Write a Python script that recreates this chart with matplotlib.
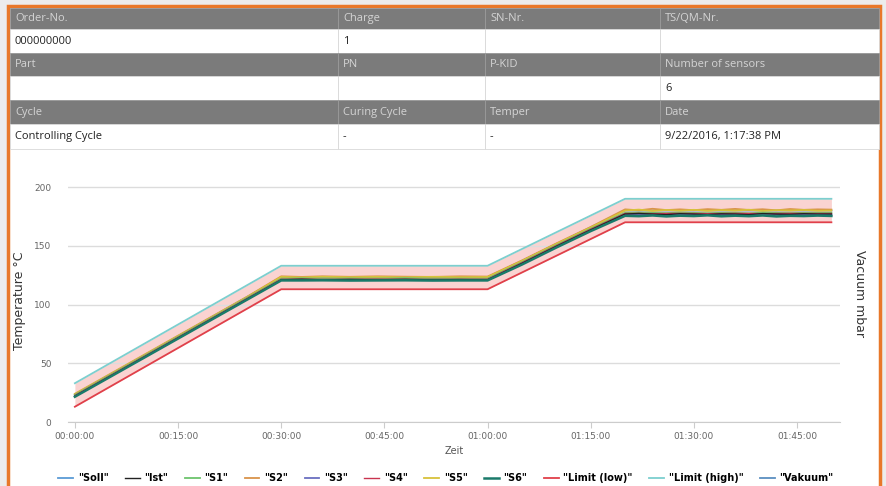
import matplotlib.pyplot as plt
from matplotlib.patches import Rectangle
from matplotlib.ticker import FuncFormatter

# table contents
header_rows = [
    ["Order-No.", "Charge", "SN-Nr.", "TS/QM-Nr."],
    ["Part", "PN", "P-KID", "Number of sensors"],
    ["Cycle", "Curing Cycle", "Temper", "Date"],
]
value_rows = [
    ["000000000", "1", "", ""],
    ["", "", "", "6"],
    ["Controlling Cycle", "-", "-", "9/22/2016, 1:17:38 PM"],
]

# chart data (time in minutes)
t_soll = [0, 30, 60, 80, 110]
soll = [23, 123, 123, 180, 180]
limit_low = [13, 113, 113, 170, 170]
limit_high = [33, 133, 133, 190, 190]

t_meas = [0, 5, 10, 15, 20, 25, 30, 33, 36, 40, 44, 48, 52, 56, 60, 65, 70, 75, 80,
          82, 84, 86, 88, 90, 92, 94, 96, 98, 100, 102, 104, 106, 108, 110]
ist = [22, 38.5, 55, 71.5, 88, 104.5, 121, 121.5, 121, 121.3, 121, 121.4, 121, 121.2, 121,
       135, 149.5, 163.5, 177, 177.5, 177, 176.5, 177.3, 177, 176.6, 177.2, 177, 176.5, 177.4, 177, 176.8, 177.3, 177, 177]
s1 = [23, 39.5, 56, 72.5, 89, 105.5, 122, 122.3, 122, 122.2, 122, 122.4, 122, 122.1, 122,
      136, 150.5, 164.5, 178, 178.3, 178, 177.8, 178.2, 178, 177.7, 178.1, 178, 177.6, 178.2, 178, 177.8, 178.1, 178, 178]
s2 = [24, 40.5, 57, 73.5, 90, 106.5, 124, 123.5, 124, 123.6, 124, 123.7, 123.5, 124, 123.8,
      137.5, 152, 166, 181, 180.2, 181.5, 180.4, 181, 180.3, 181.2, 180.6, 181.4, 180.5, 181.1, 180.2, 181.3, 180.6, 181, 180.8]
s3 = [22, 38.5, 55, 71.5, 88, 104.5, 121, 121, 121, 121, 121, 121, 121, 121, 121,
      135, 149.5, 163.5, 177, 176.5, 177, 176.3, 177, 176.6, 177, 176.4, 177, 176.5, 177, 176.3, 176.8, 176.5, 177, 176.6]
s4 = [22.5, 39, 55.5, 72, 88.5, 105, 121.5, 121.6, 121.4, 121.5, 121.6, 121.5, 121.4, 121.5, 121.5,
      135.5, 150, 164, 177.5, 177.6, 177.4, 177.5, 177.6, 177.5, 177.4, 177.5, 177.6, 177.5, 177.4, 177.5, 177.6, 177.5, 177.5, 177.5]
s5 = [23.5, 40, 56.5, 73, 89.5, 106, 123.5, 123, 123.6, 123.2, 123.5, 123.1, 123.6, 123.2, 123.4,
      137, 151.5, 165.5, 180, 180.8, 179.6, 180.5, 179.8, 180.6, 179.7, 180.4, 179.9, 180.7, 179.6, 180.3, 180, 180.5, 179.8, 180]
s6 = [21.5, 38, 54.5, 71, 87.5, 104, 120.5, 120.5, 120.6, 120.4, 120.5, 120.6, 120.4, 120.5, 120.5,
      134, 148.5, 162.5, 175.5, 175.2, 175.8, 175, 175.6, 175.3, 175.9, 175.1, 175.6, 175.2, 175.8, 175, 175.5, 175.3, 175.7, 175.4]

x_ticks = [0, 15, 30, 45, 60, 75, 90, 105]
y_ticks = [0, 50, 100, 150, 200]

fig = plt.figure(figsize=(8.87, 4.86), dpi=100)
fig.patch.set_facecolor("#ececec")
W, H = 887, 486

def box(x0, y0, x1, y1, **kw):
    # pixel coords, top-left origin
    fig.patches.append(Rectangle((x0 / W, 1 - y1 / H), (x1 - x0) / W, (y1 - y0) / H,
                                 transform=fig.transFigure, figure=fig, **kw))

# white card with orange border
box(8, 6, 880, 492, facecolor="white", edgecolor="#e8782a", linewidth=2.5, zorder=0)

col_x = [10, 338, 485, 660, 879]
row_y = [8, 29, 53, 76, 100, 124, 149]
for r in range(3):
    for c in range(4):
        box(col_x[c], row_y[2 * r], col_x[c + 1], row_y[2 * r + 1],
            facecolor="#7b7b7b", edgecolor="#9a9a9a", linewidth=0.6, zorder=1)
        box(col_x[c], row_y[2 * r + 1], col_x[c + 1], row_y[2 * r + 2],
            facecolor="white", edgecolor="#d8d8d8", linewidth=0.6, zorder=1)
        fig.text((col_x[c] + 5) / W, 1 - (row_y[2 * r] + row_y[2 * r + 1]) / 2 / H,
                 header_rows[r][c], color="#d4d4d4", fontsize=8, va="center",
                 family="Open Sans")
        fig.text((col_x[c] + 5) / W, 1 - (row_y[2 * r + 1] + row_y[2 * r + 2]) / 2 / H,
                 value_rows[r][c], color="#222222", fontsize=8, va="center",
                 family="Open Sans")

ax = fig.add_axes([68 / W, 1 - 422 / H, (840 - 68) / W, (422 - 180) / H])
ax.set_zorder(5)
ax.patch.set_alpha(0)
ax.fill_between(t_soll, limit_low, limit_high, color="#f9c9c6", alpha=0.8, lw=0, zorder=1)
ax.plot(t_soll, soll, color="#5b9bd5", lw=1.3, label='"Soll"', zorder=2)
ax.plot(t_meas, s2, color="#d9934a", lw=1.3, label='"S2"', zorder=3)
ax.plot(t_meas, s5, color="#d8c23a", lw=1.3, label='"S5"', zorder=3)
ax.plot(t_meas, s1, color="#6cc46c", lw=1.3, label='"S1"', zorder=3)
ax.plot(t_meas, s3, color="#6a6fc0", lw=1.3, label='"S3"', zorder=3)
ax.plot(t_meas, s4, color="#c9334f", lw=1.0, label='"S4"', zorder=3)
ax.plot(t_meas, ist, color="#222222", lw=1.0, label='"Ist"', zorder=4)
ax.plot(t_meas, s6, color="#1a7a6a", lw=1.8, label='"S6"', zorder=4)
ax.plot(t_soll, limit_low, color="#e0404a", lw=1.3, label='"Limit (low)"', zorder=2)
ax.plot(t_soll, limit_high, color="#7ccfcf", lw=1.3, label='"Limit (high)"', zorder=2)
ax.plot([], [], color="#5a8fc0", lw=1.3, label='"Vakuum"')

ax.set_xlim(-1.0, 111.25)
ax.set_ylim(0, 206)
ax.set_xticks(x_ticks)
ax.set_yticks(y_ticks)
ax.xaxis.set_major_formatter(FuncFormatter(lambda v, p: "%02d:%02d:00" % (int(v) // 60, int(v) % 60)))
ax.tick_params(axis="both", colors="#666666", labelsize=6.5, length=4)
ax.tick_params(axis="x", color="#cccccc", labelcolor="#666666")
ax.tick_params(axis="y", length=0, pad=12)
ax.grid(axis="y", color="#dcdcdc", lw=1)
for side in ["left", "right", "top"]:
    ax.spines[side].set_visible(False)
ax.spines["bottom"].set_color("#cccccc")
ax.set_xlabel("Zeit", fontsize=7, color="#555555", labelpad=3)
ax.set_ylabel("Temperature °C", fontsize=9, color="#333333")
ax.yaxis.set_label_coords(-0.055, 0.5)

fig.text(860 / W, 1 - 293 / H, "Vacuum mbar", rotation=270, fontsize=9, color="#333333",
         ha="center", va="center", zorder=6)

handles, labels = ax.get_legend_handles_labels()
order = ['"Soll"', '"Ist"', '"S1"', '"S2"', '"S3"', '"S4"', '"S5"', '"S6"',
         '"Limit (low)"', '"Limit (high)"', '"Vakuum"']
hmap = dict(zip(labels, handles))
leg = fig.legend([hmap[k] for k in order], order, loc="center", bbox_to_anchor=(446 / W, 1 - 478 / H),
                 ncol=11, frameon=False, handlelength=1.5, columnspacing=1.7,
                 handletextpad=0.5, prop={"weight": "bold", "size": 7})
leg.set_zorder(6)

fig.savefig("out.png", dpi=100, facecolor=fig.get_facecolor())
